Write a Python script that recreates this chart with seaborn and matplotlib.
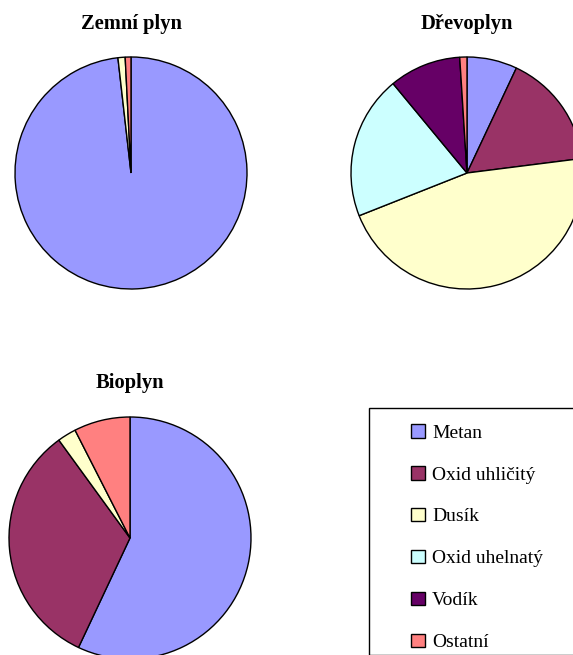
import matplotlib
matplotlib.use("Agg")
import matplotlib.pyplot as plt
from matplotlib.patches import Patch, Rectangle
import seaborn as sns

# Gas composition (volume %), components in legend order
components = ["Metan", "Oxid uhličitý", "Dusík", "Oxid uhelnatý", "Vodík", "Ostatní"]
zemni_plyn = [98.2, 0.0, 1.0, 0.0, 0.0, 0.8]
drevoplyn = [7.0, 16.0, 46.0, 20.0, 10.0, 1.0]
bioplyn = [57.0, 33.0, 2.5, 0.0, 0.0, 7.5]
titles = ["Zemní plyn", "Dřevoplyn", "Bioplyn"]

colors = ["#9999FF", "#993366", "#FFFFCC", "#CCFFFF", "#660066", "#FF8080"]

sns.set_theme(style="white")
plt.rcParams["font.family"] = ["Liberation Serif", "DejaVu Serif"]
plt.rcParams["text.color"] = "black"

W, H = 573, 655
fig = plt.figure(figsize=(W / 100, H / 100), dpi=100)
fig.patch.set_facecolor("white")


def pie_axes(cx, cy, r):
    """Square axes centred at pixel (cx, cy) with radius r pixels."""
    return fig.add_axes([(cx - r) / W, (H - cy - r) / H, 2 * r / W, 2 * r / H])


def draw_pie(ax, values, title, cx, cy, r, title_y):
    vals = [v for v in values if v > 0]
    cols = [c for v, c in zip(values, colors) if v > 0]
    ax.pie(vals, colors=cols, startangle=90, counterclock=False, radius=1.0,
           wedgeprops=dict(edgecolor="black", linewidth=1.0))
    ax.set_xlim(-1.0, 1.0)
    ax.set_ylim(-1.0, 1.0)
    ax.axis("off")
    fig.text(cx / W, 1 - title_y / H, title, ha="center", va="center",
             fontsize=14.8, fontweight="bold", color="black")


draw_pie(pie_axes(131, 173, 116), zemni_plyn, titles[0], 131, 173, 116, 24)
draw_pie(pie_axes(467, 173, 116), drevoplyn, titles[1], 467, 173, 116, 24)
draw_pie(pie_axes(130, 538, 121), bioplyn, titles[2], 130, 538, 121, 383)

# Legend frame
fig.patches.append(Rectangle((369 / W, 0), 1 - 369 / W + 0.01, 1 - 408 / H,
                             transform=fig.transFigure, facecolor="white",
                             edgecolor="black", linewidth=1.0, zorder=0))

handles = [Patch(facecolor=c, edgecolor="black", linewidth=1.0) for c in colors]
leg = fig.legend(handles, components, loc="upper left",
                 bbox_to_anchor=(411 / W, 1 - 424 / H), frameon=False,
                 fontsize=14, handlelength=0.7, handleheight=0.7,
                 handletextpad=0.38, labelspacing=1.25, borderpad=0,
                 borderaxespad=0)
for t in leg.get_texts():
    t.set_color("black")

fig.savefig("out.png", dpi=100, facecolor="white")
